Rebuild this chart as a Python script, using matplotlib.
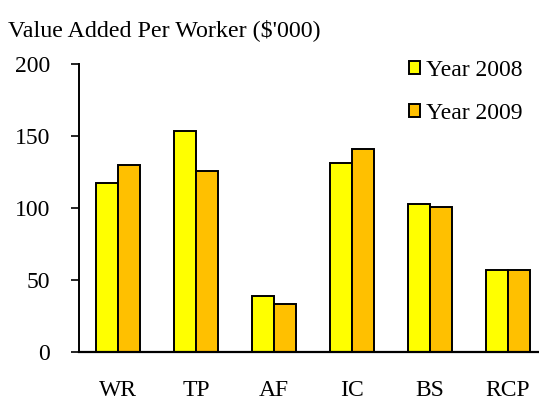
import numpy as np
import matplotlib
matplotlib.use("Agg")
import matplotlib.pyplot as plt

plt.rcParams['font.family'] = ['Liberation Serif', 'DejaVu Serif']

categories = ['WR', 'TP', 'AF', 'IC', 'BS', 'RCP']
year_2008 = [117.5, 153.5, 39, 131.5, 102.5, 57]
year_2009 = [130, 125.7, 33.3, 141, 101, 57]
series_labels = ['Year 2008', 'Year 2009']
yticks = [0, 50, 100, 150, 200]

fig = plt.figure(figsize=(5.39, 4.0), dpi=100)
ax = fig.add_axes([79 / 539, 48 / 400, 468 / 539, 288 / 400])

x = np.arange(len(categories))
w = 0.282
ax.bar(x - w / 2, year_2008, w, color='#FFFF00', edgecolor='black', linewidth=1.4, label=series_labels[0])
ax.bar(x + w / 2, year_2009, w, color='#FFC000', edgecolor='black', linewidth=1.4, label=series_labels[1])

ax.set_xlim(-0.5, 5.5)
ax.set_ylim(0, 200)
ax.set_yticks(yticks)
ax.set_xticks(x)
ax.set_xticklabels(categories)
ax.tick_params(axis='x', length=0, pad=20, labelsize=17)
ax.tick_params(axis='y', length=6, width=1.2, direction='out', pad=15, labelsize=17)

for s in ['top', 'right']:
    ax.spines[s].set_visible(False)
ax.spines['left'].set_linewidth(1.4)
ax.spines['bottom'].set_linewidth(1.6)

fig.text(8 / 539, 1 - 30 / 400, "Value Added Per Worker ($'000)", fontsize=17.3, va='center', ha='left')

fig.legend(loc='upper left', bbox_to_anchor=(409 / 539, 1 - 60 / 400), frameon=False,
           fontsize=17, handlelength=0.47, handleheight=0.47, handletextpad=0.25,
           labelspacing=0.92, borderpad=0, borderaxespad=0)

fig.savefig('out.png', dpi=100)
